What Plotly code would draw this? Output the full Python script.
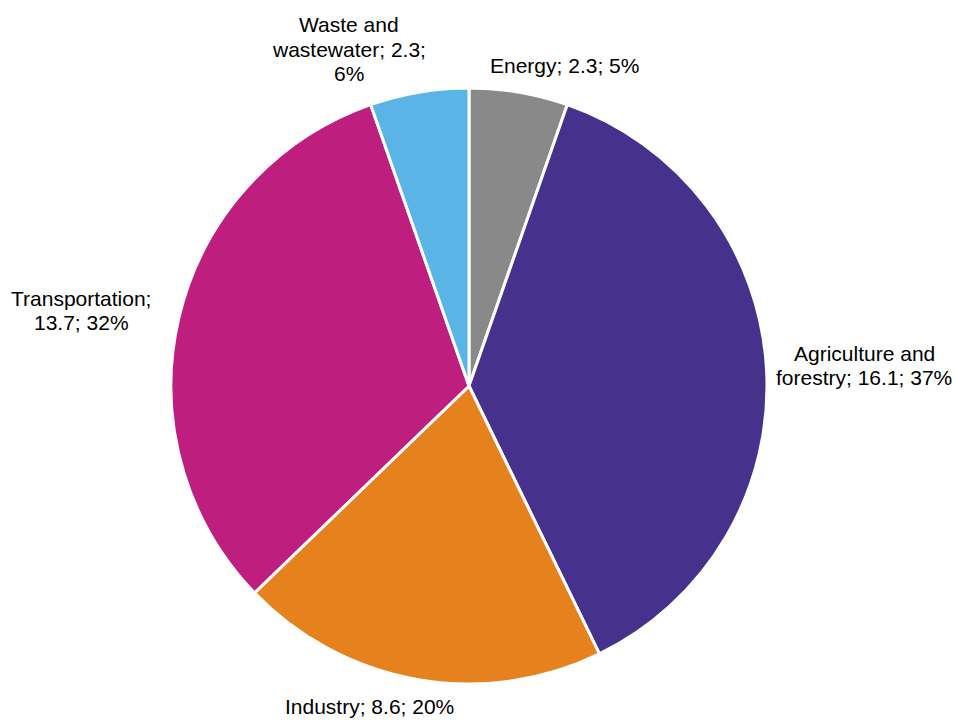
import plotly.graph_objects as go

categories = ["Energy", "Agriculture and forestry", "Industry", "Transportation", "Waste and wastewater"]
values = [2.3, 16.1, 8.6, 13.7, 2.3]
label_lines = [
    ["Energy; 2.3; 5%"],
    ["Agriculture and", "forestry; 16.1; 37%"],
    ["Industry; 8.6; 20%"],
    ["Transportation;", "13.7; 32%"],
    ["Waste and", "wastewater; 2.3;", "6%"],
]
colors = ["#898989", "#46328C", "#E6821E", "#BE1E7D", "#5AB4E6"]

W, H = 956, 720
cx, cy, r = 469, 386, 298

fig = go.Figure(go.Pie(
    labels=categories,
    values=values,
    sort=False,
    direction="clockwise",
    rotation=0,
    textinfo="none",
    hoverinfo="label+value+percent",
    marker=dict(colors=colors, line=dict(color="white", width=3)),
    domain=dict(x=[(cx - r) / W, (cx + r) / W], y=[(H - cy - r) / H, (H - cy + r) / H]),
    showlegend=False,
))

# label centre (x) and first-line centre (y) in pixels; line pitch 24.5 px
label_pos = [(564, 65), (864, 353), (369, 706), (81, 298), (349, 25)]
pitch = 24.5
for lines, (px, py) in zip(label_lines, label_pos):
    for i, line in enumerate(lines):
        fig.add_annotation(
            x=px / W, y=1 - (py + i * pitch) / H, xref="paper", yref="paper",
            text=line, showarrow=False, xanchor="center", yanchor="middle",
            align="center", borderpad=0,
            font=dict(family="Liberation Sans, Arial", size=21, color="#000000"),
        )

fig.update_layout(
    width=W, height=H,
    margin=dict(l=0, r=0, t=0, b=0),
    paper_bgcolor="white", plot_bgcolor="white",
)
fig.write_html("out.html")
